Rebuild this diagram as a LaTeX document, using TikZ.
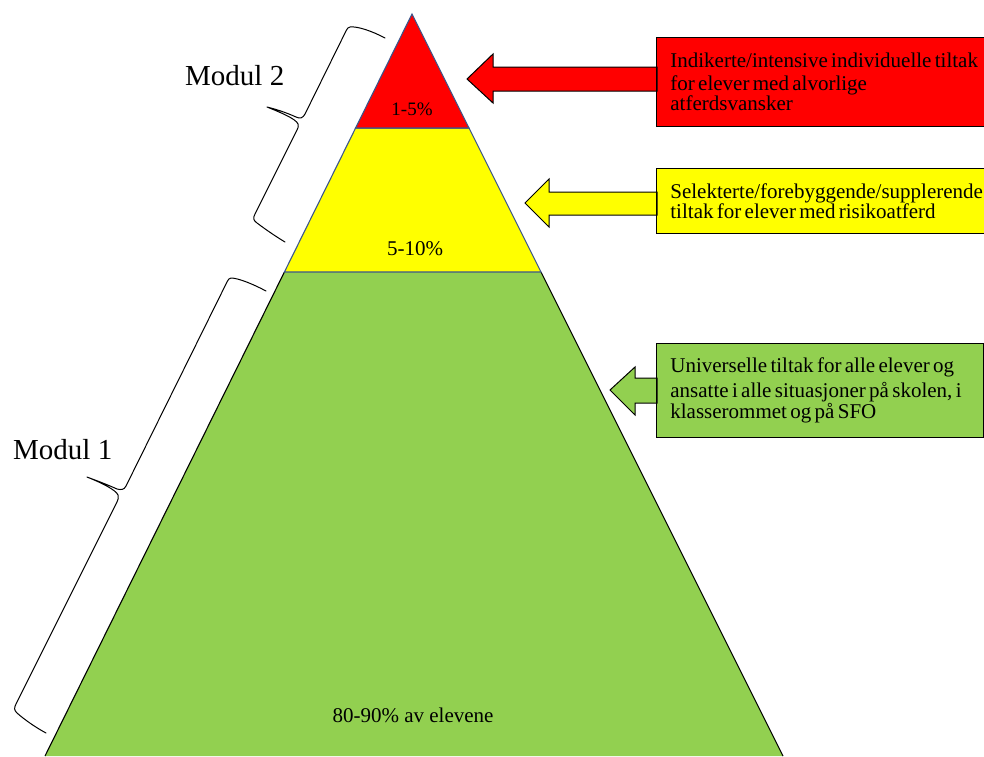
\documentclass[tikz,border=0pt]{standalone}
\usepackage{fontspec}
\setmainfont{Liberation Serif}
\usetikzlibrary{calc}
\definecolor{pred}{RGB}{255,0,0}
\definecolor{pyel}{RGB}{255,255,0}
\definecolor{pgreen}{RGB}{146,208,80}
\definecolor{pblue}{RGB}{58,86,140}
\begin{document}
\begin{tikzpicture}[x=1pt,y=-1pt,
  band/.style={draw=pblue, line width=1.1pt, line join=miter},
  blockarrow/.style={draw=black, line width=1pt, line join=miter},
  infobox/.style={draw=black, line width=0.8pt, anchor=north west, align=left,
    inner xsep=14pt, inner ysep=0pt},
  brace/.style={draw=black, line width=1pt, line cap=round, line join=round},
  pct/.style={font=\fontsize{21}{24}\selectfont, anchor=base, inner sep=0pt},
  modul/.style={font=\fontsize{29}{32}\selectfont, anchor=base west, inner sep=0pt}]
\useasboundingbox (0,0) rectangle (984,756);

% pyramid
\coordinate (apex) at (412,14);
\coordinate (gl) at (45,756);
\coordinate (gr) at (783,756);
\coordinate (yl) at (284.4,272);
\coordinate (yr) at (541,272);
\coordinate (rl) at (355.6,128);
\coordinate (rr) at (469,128);
\fill[pgreen] (yl) -- (yr) -- (gr) -- (gl) -- cycle;
\draw[black, line width=1.1pt] (gl) -- (yl) (yr) -- (gr);
\draw[band, fill=pyel] (rl) -- (rr) -- (yr) -- (yl) -- cycle;
\draw[band, fill=pred] (apex) -- (rr) -- (rl) -- cycle;

\node[pct, font=\fontsize{19}{22}\selectfont] (p1) at (412,115) {1-5\%};
\node[pct] (p2) at (415,255) {5-10\%};
\node[pct] (p3) at (413,722) {80-90\% av elevene};

% boxes
\node[infobox, fill=pred, text width=313pt, minimum height=89pt] (rbox) at (656,37)
  {\fontsize{21}{23}\selectfont\mbox{Indikerte/intensive individuelle tiltak}\\\mbox{for elever med alvorlige}\\\mbox{atferdsvansker}};
\node[infobox, fill=pyel, text width=313pt, minimum height=65pt] (ybox) at (656,168)
  {\fontsize{21}{23}\selectfont\mbox{Selekterte/forebyggende/supplerende}\\\mbox{tiltak for elever med risikoatferd}};
\node[infobox, fill=pgreen, text width=299pt, minimum height=94pt] (gbox) at (656,343)
  {\fontsize{21}{25}\selectfont\mbox{Universelle tiltak for alle elever og}\\\mbox{ansatte i alle situasjoner på skolen, i}\\\mbox{klasserommet og på SFO}};

% block arrows (drawn from tip to box)
\coordinate (rtip) at (467,79);
\coordinate (ytip) at (525,203);
\coordinate (gtip) at (610,390);
\begin{scope}[on background layer/.style={}]
\end{scope}
\draw[blockarrow, fill=pred] (rtip) -- ++(26,-25) -- ++(0,13)
  -- ($(rbox.north west)+(1,30)$) -- ($(rbox.north west)+(1,54)$)
  -- (493,91) -- (493,103) -- cycle;
\draw[blockarrow, fill=pyel] (ytip) -- ++(24,-24) -- ++(0,13)
  -- ($(ybox.north west)+(1,24)$) -- ($(ybox.north west)+(1,47)$)
  -- (549,215) -- (549,227) -- cycle;
\draw[blockarrow, fill=pgreen] (gtip) -- ++(25,-23) -- ++(0,11)
  -- ($(gbox.north west)+(1,35)$) -- ($(gbox.north west)+(1,60)$)
  -- (635,403) -- (635,415) -- cycle;
% redraw box borders over the shaft ends
\draw[black, line width=0.8pt] (rbox.north west) -- (rbox.south west);
\draw[black, line width=0.8pt] (ybox.north west) -- (ybox.south west);
\draw[black, line width=0.8pt] (gbox.north west) -- (gbox.south west);

% modul labels
\node[modul] (m2) at (185,85) {Modul 2};
\node[modul] (m1) at (13,459) {Modul 1};

% braces
\draw[brace] (385,38) .. controls (372,31) and (357,26) .. (350,27)
  .. controls (348,27) and (347,29) .. (346,31)
  -- (305,114) .. controls (303,118) and (300,119) .. (296,117)
  .. controls (285,112) and (275,109) .. (267,107)
  .. controls (282,113) and (296,119) .. (298,124)
  .. controls (299,126) and (298,128) .. (297,130)
  -- (255,214) .. controls (253,218) and (253,220) .. (257,223)
  .. controls (265,229) and (275,236) .. (285,242);
\draw[brace] (266,291) .. controls (253,284) and (238,278) .. (231,278)
  .. controls (229,278) and (228,280) .. (227,282)
  -- (126,486) .. controls (124,490) and (121,490) .. (117,489)
  .. controls (106,484) and (95,480) .. (87,477)
  .. controls (102,483) and (116,490) .. (118,495)
  .. controls (119,497) and (118,500) .. (117,502)
  -- (16,704) .. controls (14,708) and (14,710) .. (17,713)
  .. controls (25,720) and (35,727) .. (46,733);
\end{tikzpicture}
\end{document}
